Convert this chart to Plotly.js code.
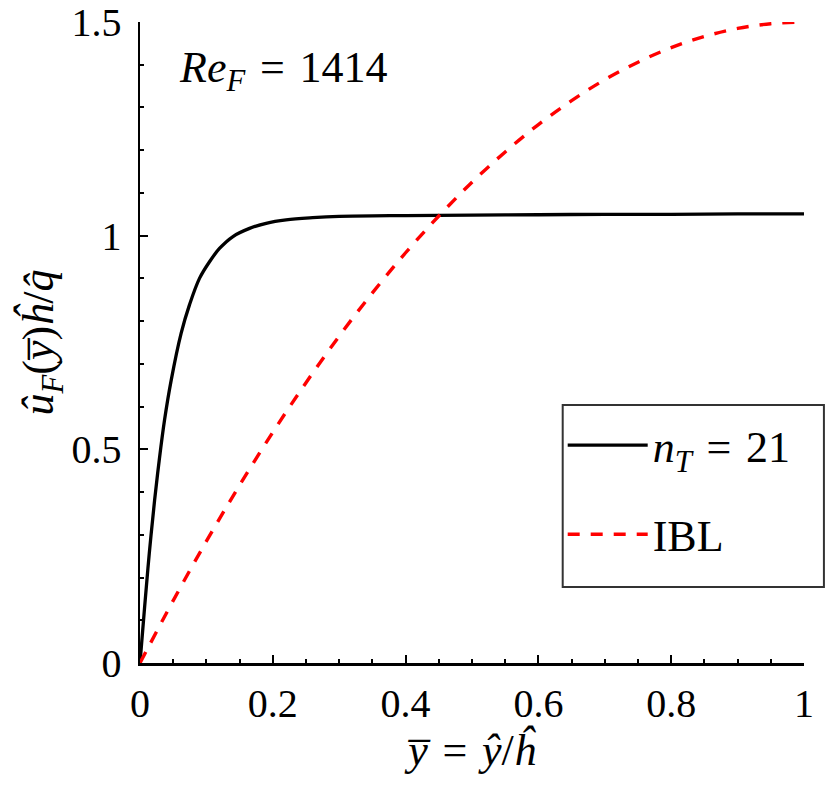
<!DOCTYPE html>
<html>
<head>
<meta charset="utf-8">
<script src="https://cdn.plot.ly/plotly-3.0.1.min.js"></script>
<style>html,body{margin:0;padding:0;background:#fff;}#plot{width:830px;height:789px;}</style>
</head>
<body>
<div id="plot"></div>
<script>
// n_T = 21 profile
var ntX = [0, 0.007, 0.014, 0.022, 0.029, 0.037, 0.047, 0.062, 0.0745, 0.0896, 0.1047, 0.1197, 0.14, 0.165, 0.19, 0.22, 0.26, 0.3, 0.4, 0.5, 0.6, 0.7, 0.8, 0.9, 1.0];
var ntY = [0, 0.132, 0.257, 0.381, 0.475, 0.569, 0.662, 0.772, 0.838, 0.900, 0.939, 0.970, 0.998, 1.017, 1.029, 1.037, 1.042, 1.045, 1.047, 1.048, 1.049, 1.050, 1.050, 1.051, 1.051];
// IBL profile
var iblX = [0, 0.05, 0.1, 0.15, 0.2, 0.25, 0.3, 0.35, 0.4, 0.45, 0.5, 0.55, 0.6, 0.65, 0.7, 0.75, 0.8, 0.85, 0.9, 0.95, 1.0];
var iblY = [0, 0.146, 0.285, 0.416, 0.54, 0.656, 0.765, 0.866, 0.96, 1.046, 1.125, 1.196, 1.26, 1.316, 1.365, 1.406, 1.44, 1.466, 1.485, 1.496, 1.5];

var xTicks = [0, 0.2, 0.4, 0.6, 0.8, 1];
var xTickText = ['0', '0.2', '0.4', '0.6', '0.8', '1'];
var yTicks = [0, 0.5, 1, 1.5];
var yTickText = ['0', '0.5', '1', '1.5'];

var serif = 'Liberation Serif';
var sp = '\u2004';

var traces = [
  {x: ntX, y: ntY, mode: 'lines', name: '<i>n</i><sub><i>T</i></sub>' + sp + '=' + sp + '21',
   line: {color: '#000000', width: 3.3, shape: 'spline'}, legendgroup: 'a'},
  {x: iblX, y: iblY, mode: 'lines', name: 'IBL',
   line: {color: '#ff0000', width: 3.4, dash: '12px,11px', shape: 'spline'}, legendgroup: 'b'}
];

var axisCommon = {
  showline: true, linecolor: '#000', linewidth: 2.5, mirror: false,
  ticks: 'inside', ticklen: 8, tickwidth: 2, tickcolor: '#000',
  showgrid: false, zeroline: false,
  tickfont: {family: serif, size: 40, color: '#000'},
  tickmode: 'array'
};

var layout = {
  width: 830, height: 789,
  margin: {l: 140, r: 26, t: 22, b: 126},
  paper_bgcolor: '#fff', plot_bgcolor: '#fff',
  font: {family: serif, color: '#000'},
  showlegend: true,
  xaxis: Object.assign({}, axisCommon, {
    range: [0, 1], tickvals: xTicks, ticktext: xTickText, ticklabelstandoff: 3,
    minor: {dtick: 0.05, ticks: 'inside', ticklen: 4, tickwidth: 2, tickcolor: '#000', showgrid: false},
    title: {text: '<i>y̅</i>' + sp + '=' + sp + '<i>ŷ</i>/<i>ĥ</i>', font: {family: serif, size: 44, color: '#000'}, standoff: 10}
  }),
  yaxis: Object.assign({}, axisCommon, {
    range: [0, 1.5], tickvals: yTicks, ticktext: yTickText, ticklabelstandoff: 8,
    minor: {dtick: 0.1, ticks: 'inside', ticklen: 4, tickwidth: 2, tickcolor: '#000', showgrid: false},
    title: {text: '<i>û</i><sub><i>F</i></sub>(<i>y̅</i>)<i>ĥ</i>/<i>q̂</i>', font: {family: serif, size: 44, color: '#000'}, standoff: 4}
  }),
  legend: {
    x: 0.6366, y: 0.3947, xanchor: 'left', yanchor: 'top',
    bgcolor: 'rgba(0,0,0,0)', borderwidth: 0,
    font: {family: serif, size: 44, color: '#000'},
    tracegroupgap: 29, itemwidth: 80
  },
  shapes: [{
    type: 'rect', xref: 'paper', yref: 'paper',
    x0: 0.6366, x1: 1.030, y0: 0.1186, y1: 0.4025,
    line: {color: '#333', width: 2}, fillcolor: 'rgba(0,0,0,0)', layer: 'above'
  }],
  annotations: [{
    xref: 'paper', yref: 'paper', x: 0.055, y: 0.925, xanchor: 'left', yanchor: 'middle',
    text: '<i>Re</i><sub><i>F</i></sub>' + sp + '=' + sp + '1414', showarrow: false,
    font: {family: serif, size: 44, color: '#000'}
  }]
};

Plotly.newPlot('plot', traces, layout, {displayModeBar: false, staticPlot: true});
</script>
</body>
</html>
